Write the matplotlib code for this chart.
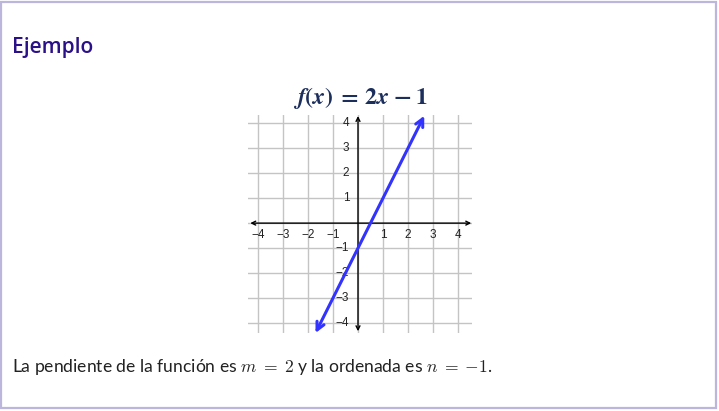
import matplotlib.pyplot as plt
from matplotlib.patches import Rectangle

plt.rcParams['mathtext.fontset'] = 'cm'

# grid / tick values
ticks = [-4, -3, -2, -1, 1, 2, 3, 4]
grid_vals = [-4, -3, -2, -1, 0, 1, 2, 3, 4]
tick_labels = ['\u22124', '\u22123', '\u22122', '\u22121', '1', '2', '3', '4']

# endpoints of the drawn line f(x) = 2x - 1 (arrow tips)
line_x = [-1.7, 2.65]
line_y = [-4.4, 4.3]

W, H = 719, 411
fig = plt.figure(figsize=(W / 100, H / 100), dpi=100)

# purple frame
fig.patches.append(Rectangle((1 / W, 3 / H), 715 / W, 406 / H, transform=fig.transFigure,
                             fill=False, edgecolor='#bcb6dc', lw=1.6))

fig.text(12 / W, 1 - 48 / H, 'Ejemplo', fontsize=15, color='#2b1188', weight='semibold',
         family='Open Sans', va='center', ha='left')

# plot area
ax = fig.add_axes([248 / W, (H - 333) / H, 224 / W, 218 / H])
ax.set_xlim(-4.4, 4.56)
ax.set_ylim(-4.4, 4.33)
for s in ax.spines.values():
    s.set_visible(False)
ax.set_xticks([])
ax.set_yticks([])
for v in grid_vals:
    ax.axvline(v, color='#c4c4c4', lw=1, zorder=1)
    ax.axhline(v, color='#c4c4c4', lw=1, zorder=1)

# axes with arrows
ax.annotate('', xy=(4.53, 0), xytext=(-4.31, 0),
            arrowprops=dict(arrowstyle='<->', color='black', lw=1, mutation_scale=7, shrinkA=0, shrinkB=0))
ax.annotate('', xy=(0, 4.29), xytext=(0, -4.33),
            arrowprops=dict(arrowstyle='<->', color='black', lw=1, mutation_scale=7, shrinkA=0, shrinkB=0))

for t, lab in zip(ticks, tick_labels):
    ax.text(t, -0.47, lab, ha='center', va='center', fontsize=8.5, family='Liberation Sans', color='#222222')
    ax.text(-0.35, t, lab, ha='right', va='center', fontsize=8.5, family='Liberation Sans', color='#222222')

ax.annotate('', xy=(line_x[1], line_y[1]), xytext=(line_x[0], line_y[0]),
            arrowprops=dict(arrowstyle='<->', color='#3333ff', lw=2.2, mutation_scale=14,
                            shrinkA=0, shrinkB=0), zorder=5)

fig.text(361 / W, 1 - 98 / H,
         r'$\boldsymbol{f(x)}\;\boldsymbol{=}\;\boldsymbol{2x}\;\boldsymbol{-}\;\boldsymbol{1}$',
         fontsize=17, color='#1c2e5c', ha='center', va='center', math_fontfamily='stix')

fig.text(12 / W, 1 - 372 / H,
         r'La pendiente de la función es $m\;=\;2$ y la ordenada es $n\;=\;{-1}$.',
         fontsize=12.6, family='Lato', color='#222222', ha='left', va='baseline')

fig.savefig('out.png', dpi=100)
